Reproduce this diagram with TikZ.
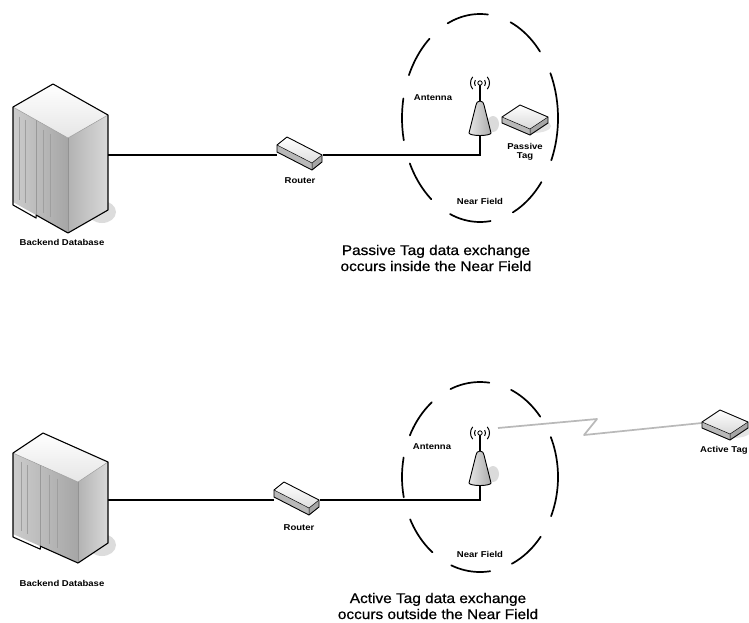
\documentclass[tikz,border=0pt]{standalone}
\usepackage{fontspec}
\setmainfont{Liberation Sans}
\newfontfamily\capfont[FakeStretch=1.1, FakeBold=0.6]{Liberation Sans}
\newfontfamily\lblfont[FakeStretch=1.12]{Liberation Sans}
\usetikzlibrary{calc}

% Isometric server cabinet: #1,#2 top corner; #3,#4 step to left corner;
% #5,#6 step to right corner; #7 height of the cabinet
\newcommand{\serverbody}[7]{%
  \begin{scope}[shift={(#1,#2)}]
    \coordinate (sT) at (0,0);
    \coordinate (sL) at (#3,#4);
    \coordinate (sR) at (#5,#6);
    \coordinate (sF) at (#3+#5,#4+#6);
    \coordinate (sBL) at (#3,#4+#7);
    \coordinate (sBF) at (#3+#5,#4+#6+#7);
    \coordinate (sBR) at (#5,#6+#7);
    \fill[gray!45, opacity=.6] ($(sBR)+(-6,2)$) ellipse [x radius=14, y radius=11];
    \shade[left color=gray!40, right color=gray!70] (sL) -- (sF) -- (sBF) -- (sBL) -- cycle;
    \shade[left color=gray!60, right color=gray!30] (sF) -- (sR) -- (sBR) -- (sBF) -- cycle;
    \shade[top color=white, bottom color=gray!20] (sT) -- (sR) -- (sF) -- (sL) -- cycle;
    % bays on the front face
    \foreach \t in {0.12,0.22,0.55,0.68}{
      \draw[gray!75, line width=.5pt] ($(sL)!\t!(sF)+(0,6)$) -- ($(sBL)!\t!(sBF)+(0,-6)$);}
    \draw[gray!80, line width=.7pt] ($(sL)!0.42!(sF)$) -- ($(sBL)!0.42!(sBF)$);
    \draw[gray!80, line width=.5pt] (sL) -- (sF) -- (sR);
    \draw[gray!85, line width=.5pt] (sF) -- (sBF);
    \draw[edge] (sT) -- (sR) -- (sBR) -- (sBF) -- ($(sBL)!0.42!(sBF)$) -- ++(0,3) -- ($(sBL)+(0,3)$) -- (sBL) -- (sL) -- cycle;
  \end{scope}}

% Flat isometric box for the router, centred on #1,#2
\newcommand{\routerbody}[2]{%
  \begin{scope}[shift={(#1,#2)}]
    \fill[gray!55] (-23,-8) -- (12,10) -- (12,17) -- (-23,-1) -- cycle;
    \fill[gray!70] (12,10) -- (22,2) -- (22,9) -- (12,17) -- cycle;
    \shade[top color=white, bottom color=gray!25] (-13,-16) -- (22,2) -- (12,10) -- (-23,-8) -- cycle;
    \draw[edge, line width=.9pt] (-13,-16) -- (22,2) -- (22,9) -- (12,17) -- (-23,-1) -- (-23,-8) -- cycle;
    \draw[line width=.5pt] (-23,-8) -- (12,10) -- (22,2) (12,10) -- (12,17);
  \end{scope}}

% Antenna with its radio waves; #1,#2 is the middle of the foot
\newcommand{\antennabody}[2]{%
  \begin{scope}[shift={(#1,#2)}]
    \fill[gray!40, opacity=.7] (13,-9) ellipse [x radius=6, y radius=8];
    \shade[left color=gray!20, right color=gray!65, draw=black, line width=.9pt]
      (-11,0) -- (-4,-28) arc[start angle=180, end angle=360, radius=4] -- (11,0)
      arc[start angle=0, end angle=180, x radius=11, y radius=2.5] -- cycle;
    \draw[line width=1.2pt] (0,-32) -- (0,-48);
    \draw[line width=.8pt, fill=white] (0,-50) circle[radius=2.2];
    \foreach \r/\a in {5.5/32, 9.5/40}{
      \draw[line width=1pt] ($(0,-50)+(180-\a:\r)$) arc[start angle=180-\a, end angle=180+\a, radius=\r];
      \draw[line width=1pt] ($(0,-50)+(-\a:\r)$) arc[start angle=-\a, end angle=\a, radius=\r];}
  \end{scope}}

% Thin isometric tag, centred on #1,#2
\newcommand{\tagbody}[2]{%
  \begin{scope}[shift={(#1,#2)}]
    \fill[gray!35, opacity=.6] (8,8) ellipse [x radius=18, y radius=7];
    \fill[gray!55] (-23,-1) -- (5,11) -- (5,17) -- (-23,5) -- cycle;
    \fill[gray!70] (5,11) -- (23,-1) -- (23,5) -- (5,17) -- cycle;
    \shade[top color=white, bottom color=gray!30] (-23,-1) -- (-5,-13) -- (23,-1) -- (5,11) -- cycle;
    \draw[edge, line width=.9pt] (-23,-1) -- (-5,-13) -- (23,-1) -- (23,5) -- (5,17) -- (-23,5) -- cycle;
    \draw[line width=.5pt] (-23,-1) -- (5,11) -- (23,-1) (5,11) -- (5,17);
  \end{scope}}

\begin{document}
\begin{tikzpicture}[x=1pt, y=-1pt,
  lbl/.style={font=\lblfont\bfseries\fontsize{8.5}{9.5}\selectfont, inner sep=0pt, align=center},
  caption/.style={font=\capfont\fontsize{14}{16}\selectfont, align=center, inner sep=0pt},
  wire/.style={line width=1.6pt, black},
  edge/.style={line width=1.1pt, line join=round},
  slot/.style={inner sep=0pt, draw=none},
  fieldtop/.style={line width=1.7pt, line cap=round,
    dash pattern=on 86pt off 24pt on 42pt off 24pt on 42pt off 24pt on 42pt off 24pt
      on 42pt off 24pt on 42pt off 24pt on 42pt off 24pt on 42pt off 24pt, dash phase=43pt},
  fieldbottom/.style={line width=1.7pt, line cap=round,
    dash pattern=on 80pt off 23pt on 40pt off 23pt on 40pt off 23pt on 40pt off 23pt
      on 40pt off 23pt on 40pt off 23pt on 40pt off 23pt on 40pt off 23pt, dash phase=40pt},
  bolt/.style={gray!55, line width=1.7pt, line join=round}
]
\useasboundingbox[fill=white] (0,0) rectangle (749,622);

% ---------------- passive tag: exchange inside the near field ----------------
\node[slot, minimum width=96, minimum height=150] (db1) at (60,155) {};
\node[slot, minimum width=45, minimum height=24] (router1) at (300,155) {};
\coordinate (ant1) at (480,133);
\node[slot, minimum width=50, minimum height=28] (tag1) at (525,118) {};

\draw[wire] (db1.east) -- (router1.west);
\draw[wire] (router1.east) -- (router1.east -| ant1) -- (ant1);

\serverbody{53}{84}{-40}{23}{55}{31}{95}
\routerbody{300}{153}
\antennabody{480}{133}
\tagbody{525}{118}
\draw[fieldtop] (480,118) ellipse[x radius=78, y radius=104];

\node[lbl] (dbl1) at (62,242) {Backend Database};
\node[lbl] (rl1) at (300,181) {Router};
\node[lbl] (al1) at (433,98) {Antenna};
\node[lbl] (tl1) at (525,152) {Passive\\Tag};
\node[lbl] (nf1) at (480,201) {Near Field};
\node[caption] (cap1) at (436,258) {Passive Tag data exchange\\occurs inside the Near Field};

% ---------------- active tag: exchange outside the near field ----------------
\node[slot, minimum width=96, minimum height=130] (db2) at (60,500) {};
\node[slot, minimum width=45, minimum height=24] (router2) at (297,500) {};
\coordinate (ant2) at (480,483);
\coordinate (wave2) at (498,428);
\node[slot, minimum width=46, minimum height=28] (tag2) at (725,423) {};

\draw[wire] (db2.east) -- (router2.west);
\draw[wire] (router2.east) -- (router2.east -| ant2) -- (ant2);
\draw[bolt] (wave2) -- (597,419) -- (584,435) -- (tag2.west);

\serverbody{43}{433}{-30}{20}{65}{29}{81}
\routerbody{297}{498}
\antennabody{480}{483}
\tagbody{725}{423}
\draw[fieldbottom] (480,477) ellipse[x radius=78, y radius=95];

\node[lbl] (dbl2) at (62,583) {Backend Database};
\node[lbl] (rl2) at (299,528) {Router};
\node[lbl] (al2) at (432,447) {Antenna};
\node[lbl, anchor=west] (tl2) at (700,450) {Active Tag};
\node[lbl] (nf2) at (480,554) {Near Field};
\node[caption] (cap2) at (438,606) {Active Tag data exchange\\occurs outside the Near Field};
\end{tikzpicture}
\end{document}
